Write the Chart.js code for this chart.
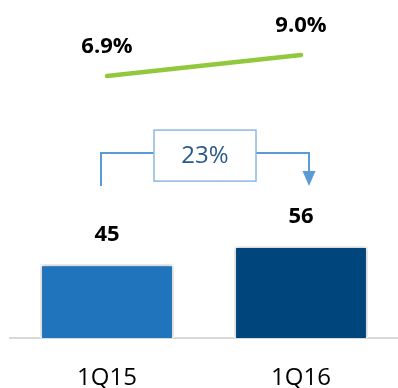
<!DOCTYPE html>
<html>
<head>
<meta charset="utf-8">
<script src="https://cdn.jsdelivr.net/npm/chart.js@4.4.1/dist/chart.umd.min.js"></script>
<style>
  html, body { margin: 0; padding: 0; background: #ffffff; }
  #wrap { width: 398px; height: 388px; }
</style>
</head>
<body>
<div id="wrap"><canvas id="chart"></canvas></div>
<script>
const categories = ["1Q15", "1Q16"];
const barValues = [45, 56];
const marginValues = [6.9, 9.0];
const marginLabels = ["6.9%", "9.0%"];
const growthLabel = "23%";

const FONT = "'Open Sans', 'Noto Sans', sans-serif";

// etiquetas encima de barras y puntos
const valueLabels = {
  id: "valueLabels",
  afterDatasetsDraw(chart) {
    const ctx = chart.ctx;
    ctx.save();
    ctx.fillStyle = "#000000";
    ctx.font = "bold 22px " + FONT;
    ctx.textAlign = "center";
    ctx.textBaseline = "middle";
    chart.data.datasets.forEach((ds, di) => {
      const meta = chart.getDatasetMeta(di);
      meta.data.forEach((el, i) => {
        const txt = ds.type === "line" ? marginLabels[i] : String(barValues[i]);
        ctx.fillText(txt, el.x, el.y - 29);
      });
    });
    ctx.restore();
  }
};

// sombra de las barras
const barShadow = {
  id: "barShadow",
  beforeDatasetDraw(chart, args) {
    if (args.meta.type !== "bar") return;
    const ctx = chart.ctx;
    ctx.save();
    ctx.shadowColor = "rgba(0,0,0,0.35)";
    ctx.shadowBlur = 4;
  },
  afterDatasetDraw(chart, args) {
    if (args.meta.type !== "bar") return;
    chart.ctx.restore();
  }
};

// flecha de crecimiento con caja
const growthBracket = {
  id: "growthBracket",
  afterDraw(chart) {
    const ctx = chart.ctx;
    const bars = chart.getDatasetMeta(1).data;
    const x1 = bars[0].x - 6;
    const x2 = bars[1].x + 8;
    const yTop = bars[1].y - 93;
    const yBot = bars[1].y - 60;
    const cx = (x1 + x2) / 2;
    const bw = 102, bh = 51;
    const bx = cx - bw / 2, by = yTop - 23;

    ctx.save();
    ctx.strokeStyle = "#5B9BD5";
    ctx.lineWidth = 2;
    ctx.beginPath();
    ctx.moveTo(x1, yBot);
    ctx.lineTo(x1, yTop);
    ctx.lineTo(bx, yTop);
    ctx.moveTo(bx + bw, yTop);
    ctx.lineTo(x2, yTop);
    ctx.lineTo(x2, yBot - 14);
    ctx.stroke();

    ctx.fillStyle = "#5B9BD5";
    ctx.beginPath();
    ctx.moveTo(x2 - 6.5, yBot - 15);
    ctx.lineTo(x2 + 6.5, yBot - 15);
    ctx.lineTo(x2, yBot);
    ctx.closePath();
    ctx.fill();

    ctx.strokeStyle = "#8DB8E4";
    ctx.lineWidth = 1.5;
    ctx.strokeRect(bx, by, bw, bh);

    ctx.fillStyle = "#2A5A8A";
    ctx.font = "24px " + FONT;
    ctx.textAlign = "center";
    ctx.textBaseline = "middle";
    ctx.fillText(growthLabel, cx, by + bh / 2 + 1);
    ctx.restore();
  }
};

new Chart(document.getElementById("chart"), {
  data: {
    labels: categories,
    datasets: [
      {
        type: "line",
        data: marginValues,
        yAxisID: "y2",
        borderColor: "#92C83E",
        borderWidth: 4.5,
        borderCapStyle: "round",
        pointRadius: 0,
        tension: 0,
        order: 0
      },
      {
        type: "bar",
        data: barValues,
        yAxisID: "y",
        backgroundColor: ["#1F74BB", "#00467D"],
        borderColor: "#ffffff",
        borderWidth: 2,
        categoryPercentage: 1,
        barPercentage: 0.69,
        order: 1
      }
    ]
  },
  options: {
    responsive: true,
    maintainAspectRatio: false,
    animation: false,
    layout: { padding: { left: 10, right: 0, top: 0, bottom: 0 } },
    plugins: {
      legend: { display: false },
      tooltip: { enabled: false }
    },
    scales: {
      x: {
        grid: { display: false, drawTicks: false },
        border: { display: true, color: "#D9D9D9", width: 2 },
        ticks: {
          color: "#000000",
          padding: 28,
          maxRotation: 0,
          font: { family: FONT, size: 24, lineHeight: 1 }
        },
        afterFit(scale) { scale.height = 50; }
      },
      y: { display: false, min: 0, max: 206 },
      y2: { display: false, min: -19.3, max: 14.5 }
    }
  },
  plugins: [barShadow, valueLabels, growthBracket]
});
</script>
</body>
</html>
